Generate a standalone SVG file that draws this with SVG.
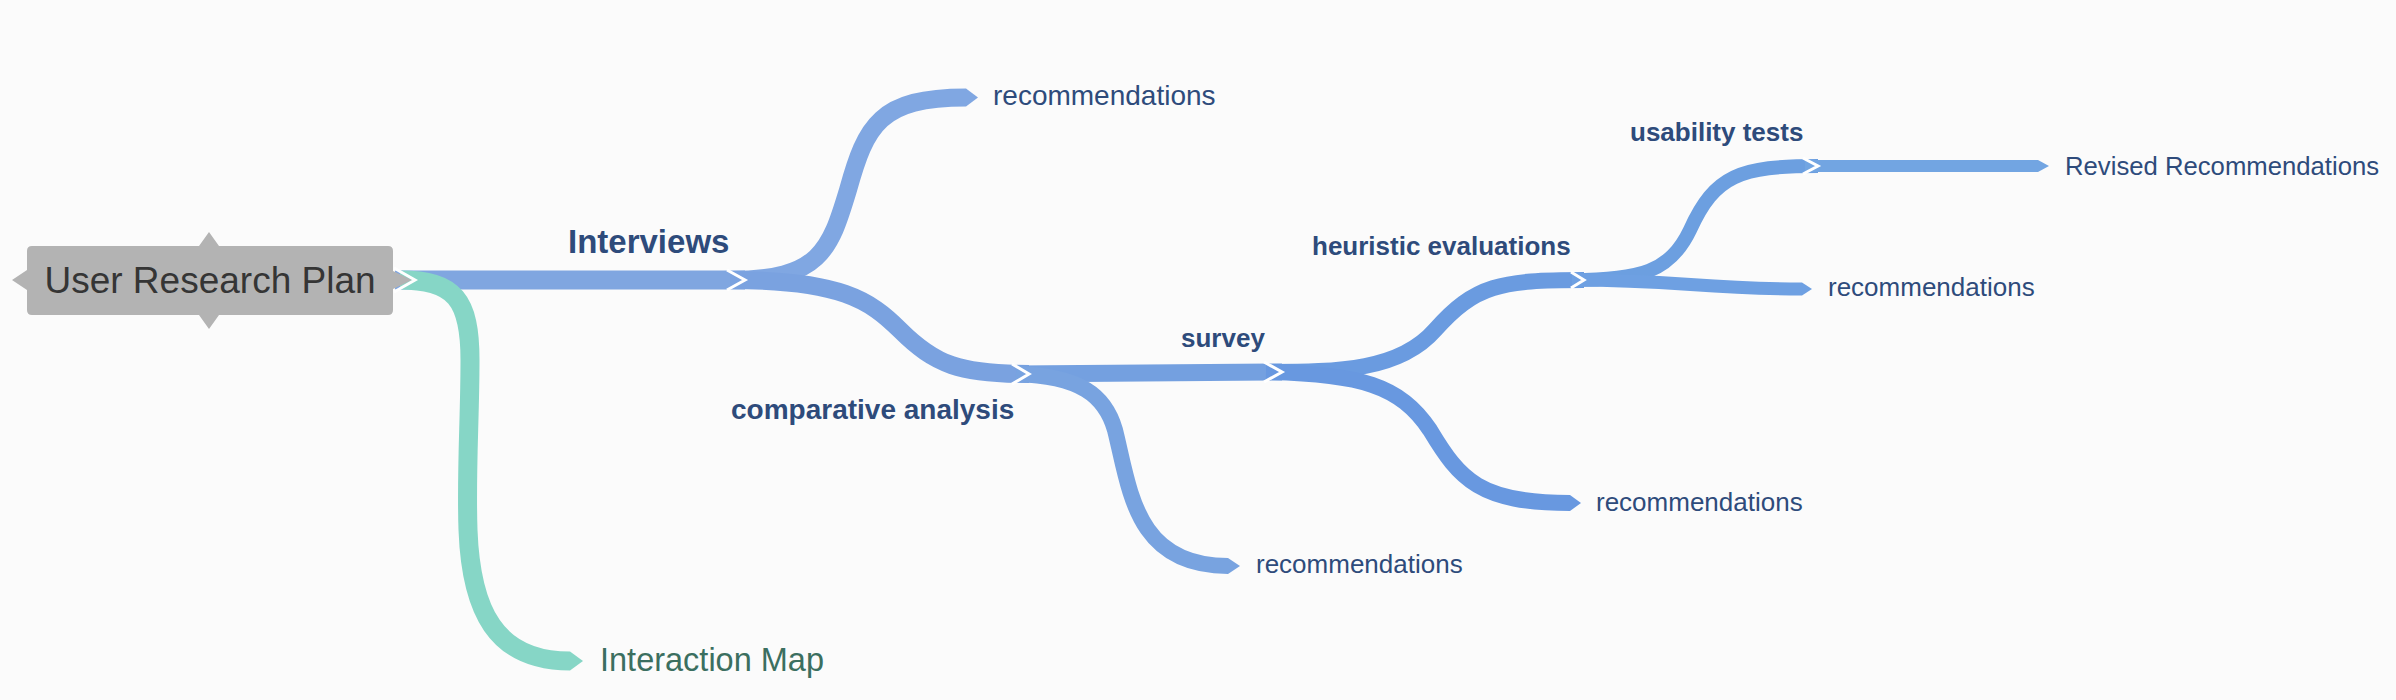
<svg xmlns="http://www.w3.org/2000/svg" width="2396" height="700" viewBox="0 0 2396 700">
<style>
.band{fill:none;stroke-linecap:butt;stroke-linejoin:round}
.chev{fill:none;stroke:#ffffff;stroke-width:3;stroke-linejoin:miter}
.t{font-family:"Liberation Sans",Arial,Helvetica,sans-serif;fill:#2e4b7b}
.b{font-weight:bold}
</style>
<rect width="2396" height="700" fill="#fbfbfb"/>
<g id="connectors">
  <path class="band" d="M395,280 L745,280" stroke="#80a6e0" stroke-width="19"/>
  <path class="band" d="M400,280 C455,280 470,300 470,360 C470,420 466,470 468,530 C471,610 495,661 570,661" stroke="#86d6c6" stroke-width="19"/>
  <polygon points="570,651.5 583,661 570,670.5" fill="#86d6c6"/>
  <path class="band" d="M730,280 C820,280 830,250 848,190 C866,125 880,97.5 966,97.5" stroke="#80a7e2" stroke-width="18"/>
  <polygon points="966,88.5 978,97.5 966,106.5" fill="#80a7e2"/>
  <path class="band" d="M730,280 C840,280 870,300 900,330 C935,365 960,374 1029,374" stroke="#7aa2e0" stroke-width="18"/>
  <path class="band" d="M1016,374 L1282,372" stroke="#74a0e0" stroke-width="17"/>
  <path class="band" d="M1016,374 C1080,376 1105,395 1115,430 C1130,490 1135,566 1228,566" stroke="#78a3e0" stroke-width="16"/>
  <polygon points="1228,558 1240,566 1228,574" fill="#78a3e0"/>
  <path class="band" d="M1266,372 C1340,372 1400,370 1435,330 C1475,285 1500,280 1584,280" stroke="#6a9be0" stroke-width="16"/>
  <path class="band" d="M1266,372 C1360,374 1400,385 1430,430 C1460,480 1480,503 1570,503" stroke="#6898e0" stroke-width="16"/>
  <polygon points="1570,495 1581,503 1570,511" fill="#6898e0"/>
  <path class="band" d="M1572,280 C1640,280 1670,272 1690,230 C1715,175 1740,166 1818,166" stroke="#6c9fe0" stroke-width="14"/>
  <path class="band" d="M1572,280 C1680,280 1700,289 1802,289" stroke="#6ea0e2" stroke-width="13"/>
  <polygon points="1802,282.5 1812,289 1802,295.5" fill="#6ea0e2"/>
  <path class="band" d="M1805,166 L2038,166" stroke="#72a5e2" stroke-width="12"/>
  <polygon points="2038,160 2049,166 2038,172" fill="#72a5e2"/>
  <polyline class="chev" points="727,270 745,280 727,290"/>
  <polyline class="chev" points="1012,364 1029,374 1012,384"/>
  <polyline class="chev" points="1264,362 1282,372 1264,382"/>
  <polyline class="chev" points="1571,272 1584,280 1571,288"/>
  <polyline class="chev" points="1803,158 1818,166 1803,174"/>
</g>
<g id="root">
  <path d="M32,246 L199,246 L209,232 L219,246 L388,246 Q393,246 393,251 L393,271 L412,280 L393,289 L393,310 Q393,315 388,315 L219,315 L209,329 L199,315 L32,315 Q27,315 27,310 L27,290 L12,280 L27,270 L27,251 Q27,246 32,246 Z" fill="#b3b3b3"/>
  <polyline class="chev" points="394,268 415,280 394,292"/>
  <text x="210" y="293" font-family="Liberation Sans, Arial, sans-serif" font-size="37" fill="#353535" text-anchor="middle">User Research Plan</text>
</g>
<g id="interviews"><text class="t b" x="568" y="253" font-size="33">Interviews</text></g>
<g id="rec1"><text class="t" x="993" y="105" font-size="28">recommendations</text></g>
<g id="comparative"><text class="t b" x="731" y="419" font-size="28">comparative analysis</text></g>
<g id="survey"><text class="t b" x="1181" y="347" font-size="26">survey</text></g>
<g id="rec2"><text class="t" x="1256" y="573" font-size="26">recommendations</text></g>
<g id="heuristic"><text class="t b" x="1312" y="255" font-size="26">heuristic evaluations</text></g>
<g id="rec3"><text class="t" x="1596" y="511" font-size="26">recommendations</text></g>
<g id="usability"><text class="t b" x="1630" y="141" font-size="26">usability tests</text></g>
<g id="rec4"><text class="t" x="1828" y="296" font-size="26">recommendations</text></g>
<g id="revised"><text class="t" x="2065" y="175" font-size="25.7">Revised Recommendations</text></g>
<g id="interaction"><text x="600" y="671" font-family="Liberation Sans, Arial, sans-serif" font-size="32.5" fill="#3b6f60">Interaction Map</text></g>
</svg>
